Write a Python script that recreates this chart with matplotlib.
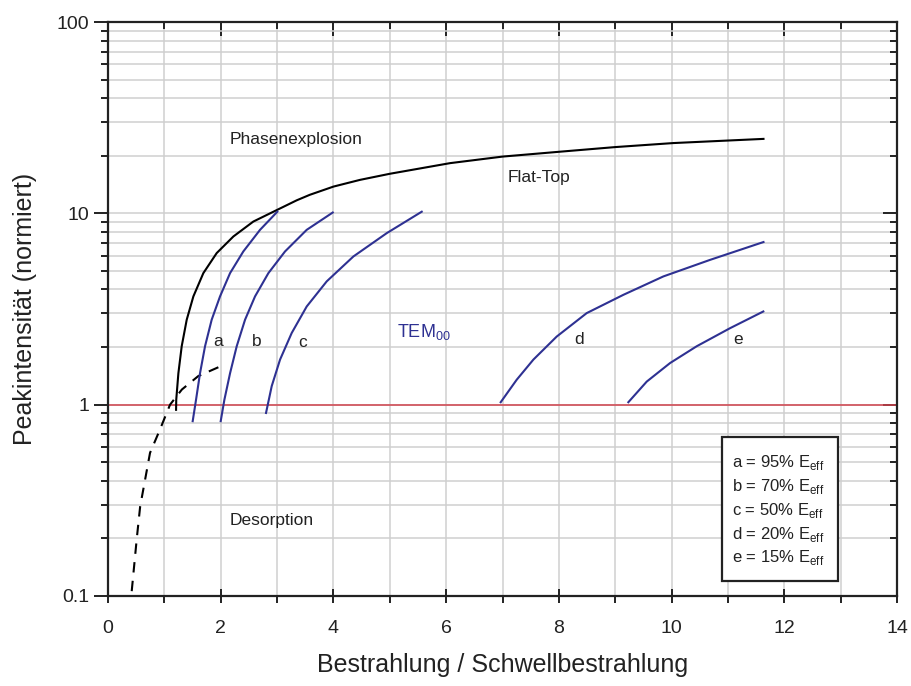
import numpy as np
import matplotlib
matplotlib.use('Agg')
import matplotlib.pyplot as plt
from matplotlib.ticker import MultipleLocator, LogLocator, FixedFormatter, FixedLocator
from matplotlib.patches import Rectangle

plt.rcParams['font.family'] = ['Liberation Sans', 'DejaVu Sans']
plt.rcParams['mathtext.fontset'] = 'custom'
plt.rcParams['mathtext.rm'] = 'Liberation Sans'

# threshold for phase explosion (solid black)
phase_x = [1.207, 1.21, 1.248, 1.307, 1.396, 1.514, 1.691, 1.928, 2.224, 2.578, 2.993,
           3.348, 3.58, 4.0, 4.47, 5.0, 6.07, 7.0, 8.02, 9.0, 10.03, 11.63]
phase_y = [0.94, 1.06, 1.46, 2.02, 2.78, 3.68, 4.87, 6.2, 7.57, 9.06, 10.4,
           11.7, 12.5, 13.8, 14.96, 16.1, 18.3, 19.8, 21.0, 22.2, 23.3, 24.5]

# desorption threshold (dashed black)
desorp_x = [0.42, 0.51, 0.57, 0.745, 0.92, 1.10, 1.31, 1.60, 1.96]
desorp_y = [0.106, 0.20, 0.294, 0.56, 0.74, 1.0, 1.2, 1.41, 1.57]

# TEM00 curves a-e
tem_curves = {
    'a': ([1.502, 1.561, 1.632, 1.721, 1.839, 1.987, 2.165, 2.40, 2.697, 3.004],
          [0.82, 1.06, 1.46, 2.02, 2.78, 3.68, 4.87, 6.32, 8.2, 10.2]),
    'b': ([1.999, 2.064, 2.165, 2.283, 2.431, 2.608, 2.845, 3.14, 3.525, 3.987],
          [0.82, 1.06, 1.46, 2.02, 2.78, 3.68, 4.87, 6.32, 8.2, 10.1]),
    'c': ([2.803, 2.904, 3.052, 3.259, 3.525, 3.88, 4.353, 4.945, 5.566],
          [0.905, 1.25, 1.72, 2.37, 3.26, 4.41, 5.95, 7.88, 10.2]),
    'd': ([6.967, 7.251, 7.547, 7.961, 8.493, 9.143, 9.853, 10.68, 11.63],
          [1.03, 1.35, 1.72, 2.27, 3.01, 3.75, 4.68, 5.71, 7.08]),
    'e': ([9.232, 9.558, 9.972, 10.445, 11.036, 11.627],
          [1.03, 1.32, 1.65, 2.02, 2.51, 3.07]),
}
curve_labels = ['a', 'b', 'c', 'd', 'e']
label_x = [1.95, 2.63, 3.46, 8.36, 11.18]
label_y = [2.14, 2.14, 2.12, 2.18, 2.2]

legend_lines = ['a = 95% E', 'b = 70% E', 'c = 50% E', 'd = 20% E', 'e = 15% E']

blue = '#2e3192'
red = '#d2434e'
dark = '#222222'

fig = plt.figure(figsize=(9.11, 6.86), dpi=100)
ax = fig.add_axes([0.1186, 0.1312, 0.8661, 0.8367])

ax.set_xlim(0, 14)
ax.set_yscale('log')
ax.set_ylim(0.1, 100)

ax.xaxis.set_major_locator(MultipleLocator(2))
ax.xaxis.set_minor_locator(MultipleLocator(1))
ax.yaxis.set_major_locator(FixedLocator([0.1, 1, 10, 100]))
ax.yaxis.set_major_formatter(FixedFormatter(['0.1', '1', '10', '100']))
ax.yaxis.set_minor_locator(LogLocator(base=10, subs=np.arange(2, 10)))
ax.yaxis.set_minor_formatter(plt.NullFormatter())

ax.grid(True, which='both', color='#cfcfcf', lw=1.1)
ax.set_axisbelow(True)

for s in ax.spines.values():
    s.set_linewidth(1.6)
    s.set_color(dark)

ax.tick_params(which='both', top=True, right=True, labelsize=14, width=1.4,
               color=dark, labelcolor=dark)
ax.tick_params(axis='x', which='major', direction='inout', length=10, pad=12)
ax.tick_params(axis='x', which='minor', direction='out', length=5)
ax.tick_params(axis='y', which='major', direction='out', length=10)
ax.tick_params(axis='y', which='minor', direction='out', length=5)
# top and right ticks point inward
for t in ax.xaxis.get_major_ticks() + ax.xaxis.get_minor_ticks():
    t.tick2line.set_marker(3)
for t in ax.yaxis.get_major_ticks() + ax.yaxis.get_minor_ticks():
    t.tick2line.set_marker(0)

ax.axhline(1, color=red, lw=1.1, zorder=2)

ax.plot(phase_x, phase_y, color='black', lw=1.5)
ax.plot(desorp_x, desorp_y, color='black', lw=1.5, ls=(0, (5, 4)))

for k in curve_labels:
    xs, ys = tem_curves[k]
    ax.plot(xs, ys, color=blue, lw=1.5)

for k, lx, ly in zip(curve_labels, label_x, label_y):
    ax.text(lx, ly, k, fontsize=12.5, color=dark, ha='center', va='center')

ax.text(2.15, 24.2, 'Phasenexplosion', fontsize=12.5, color=dark, va='center')
ax.text(7.65, 15.4, 'Flat-Top', fontsize=12.5, color=dark, va='center', ha='center')
ax.text(2.15, 0.249, 'Desorption', fontsize=12.5, color=dark, va='center')
ax.text(5.13, 2.4, r'TEM$_{\mathregular{00}}$', fontsize=13, color=blue, va='center')

# legend box
ax.add_patch(Rectangle((0.778, 0.026), 0.147, 0.251, transform=ax.transAxes,
                       fill=True, facecolor='white', edgecolor=dark, lw=1.6, zorder=3))
for i, line in enumerate(legend_lines):
    ax.text(0.791, 0.232 - i * 0.0414, line + r'$_{\mathregular{eff}}$', transform=ax.transAxes,
            fontsize=12, color=dark, va='center', zorder=4)

ax.set_xlabel('Bestrahlung / Schwellbestrahlung', fontsize=18, labelpad=12, color=dark)
ax.set_ylabel('Peakintensität (normiert)', fontsize=18, labelpad=14, color=dark)

fig.savefig('out.png', dpi=100)
